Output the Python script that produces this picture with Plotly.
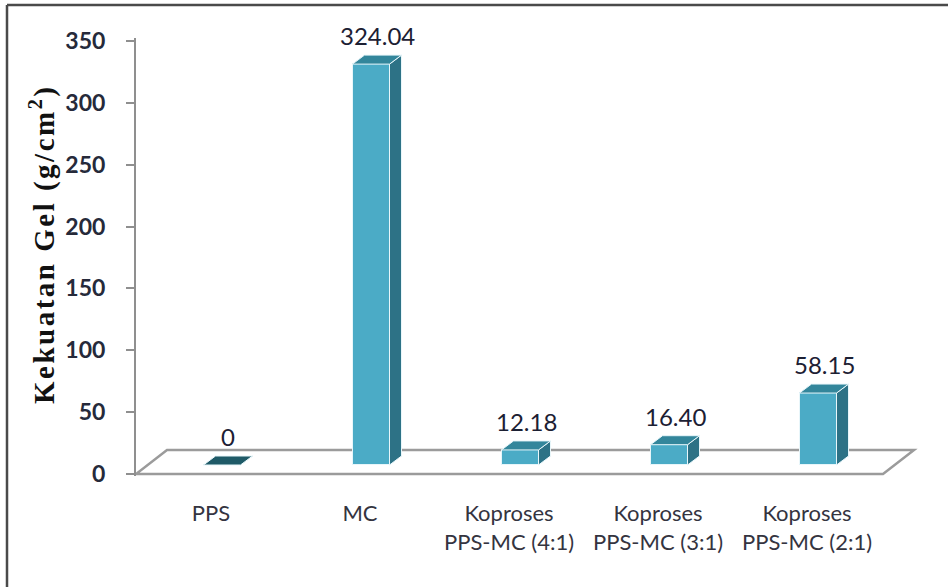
import plotly.graph_objects as go

# ---- data -------------------------------------------------------------
categories = ["PPS", "MC", "Koproses<br>PPS-MC (4:1)",
              "Koproses<br>PPS-MC (3:1)", "Koproses<br>PPS-MC (2:1)"]
gel_strength = [0, 324.04, 12.18, 16.40, 58.15]
value_labels = ["0", "324.04", "12.18", "16.40", "58.15"]
y_ticks = [0, 50, 100, 150, 200, 250, 300, 350]

# ---- canvas / plot-area geometry (pixels) -----------------------------
W, H = 948, 587
L, R, T, B = 136, 18, 38, 111
plot_w = W - L - R
plot_h = H - T - B
px_per_x = 149.0                   # one category step
px_per_y = 433.0 / 350.0           # 350 units of gel strength
x0 = -(211 - L) / px_per_x
x_range = [x0, x0 + plot_w / px_per_x]
y0 = -2.0 / px_per_y
y_range = [y0, y0 + plot_h / px_per_y]

def dx(px):
    return px / px_per_x

def dy(px):
    return px / px_per_y

def paper_x(px):
    return (px - L) / plot_w

def paper_y(py):
    return (H - B - py) / plot_h

# pseudo-3D bar geometry
shift_x = dx(11)        # bars sit in the middle of the floor depth
half_w = dx(18.5)
base = dy(9)
depth_x = dx(12)
depth_y = dy(9)

FRONT = "#4babc6"
SIDE = "#2d7286"
TOP = "#33869b"
EDGE = "#e8f6fa"

fig = go.Figure()

# floor slab
n = len(categories)
floor_depth_x, floor_depth_y = dx(31), dy(24)
fx_left = x_range[0]
fx_right = (n - 1) + dx(883 - 211 - 149 * (n - 1))
floor_path = (f"M {fx_left},0 L {fx_right},0 "
              f"L {fx_right + floor_depth_x},{floor_depth_y} "
              f"L {fx_left + floor_depth_x},{floor_depth_y} Z")
fig.add_shape(type="path", path=floor_path, xref="x", yref="y",
              line=dict(color="#9b9b9b", width=2.5), fillcolor="white",
              layer="below")

# front faces
centers = [i + shift_x for i in range(n)]
fig.add_trace(go.Bar(
    x=centers, y=gel_strength, base=[base] * n, width=2 * half_w,
    marker=dict(color=FRONT, line=dict(color=EDGE, width=1)),
    hoverinfo="skip", showlegend=False))

# side and top faces
for c, v in zip(centers, gel_strength):
    top = base + v
    side_x = [c + half_w, c + half_w + depth_x, c + half_w + depth_x, c + half_w, c + half_w]
    side_y = [base, base + depth_y, top + depth_y, top, base]
    fig.add_trace(go.Scatter(
        x=side_x, y=side_y, fill="toself", fillcolor=SIDE, mode="lines",
        line=dict(color=EDGE, width=1), hoverinfo="skip", showlegend=False))
    top_x = [c - half_w, c + half_w, c + half_w + depth_x, c - half_w + depth_x, c - half_w]
    top_y = [top, top, top + depth_y, top + depth_y, top]
    fig.add_trace(go.Scatter(
        x=top_x, y=top_y, fill="toself",
        fillcolor=TOP if v > 0 else "#1f5a67", mode="lines",
        line=dict(color=EDGE, width=1), hoverinfo="skip", showlegend=False))

# value labels above each bar
annotations = []
for c, v, lab in zip(centers, gel_strength, value_labels):
    annotations.append(dict(
        x=c + depth_x / 2, y=base + v + depth_y, xref="x", yref="y",
        text=lab, showarrow=False, yanchor="bottom", yshift=3,
        font=dict(family="Lato", size=24, color="#1c2033")))

# y-axis title
annotations.append(dict(
    x=paper_x(42), y=paper_y(244), xref="paper", yref="paper",
    text=("<span style='letter-spacing:2.5px'><b>Kekuatan Gel "
          "(g/cm<sup>2</sup>)</b></span>"),
    textangle=-90,
    showarrow=False, xanchor="center", yanchor="middle",
    font=dict(family="Liberation Serif", size=29, color="#111111")))

# outer frame (left and top edges)
frame = dict(color="#4a4a4a", width=2.5)
fig.add_shape(type="line", xref="paper", yref="paper",
              x0=paper_x(7), x1=paper_x(7), y0=paper_y(5), y1=paper_y(H + 10),
              line=frame)
fig.add_shape(type="line", xref="paper", yref="paper",
              x0=paper_x(7), x1=paper_x(W + 10), y0=paper_y(5), y1=paper_y(5),
              line=frame)

fig.update_layout(
    width=W, height=H,
    margin=dict(l=L, r=R, t=T, b=B),
    paper_bgcolor="white", plot_bgcolor="white",
    bargap=0, showlegend=False,
    annotations=annotations,
    xaxis=dict(range=x_range, tickvals=list(range(n)), ticktext=categories,
               showline=False, showgrid=False, zeroline=False, ticks="",
               ticklabelstandoff=22,
               tickfont=dict(family="Lato", size=22, color="#34343f"),
               fixedrange=True),
    yaxis=dict(range=y_range, tickvals=y_ticks, showgrid=False, zeroline=False,
               showline=True, linecolor="#8f8f8f", linewidth=2,
               ticks="outside", ticklen=8, tickwidth=2, tickcolor="#8f8f8f",
               ticklabelstandoff=16,
               tickfont=dict(family="Lato", size=23, color="#262a3a",
                             weight="bold"),
               fixedrange=True),
)

fig.write_html("out.html")
